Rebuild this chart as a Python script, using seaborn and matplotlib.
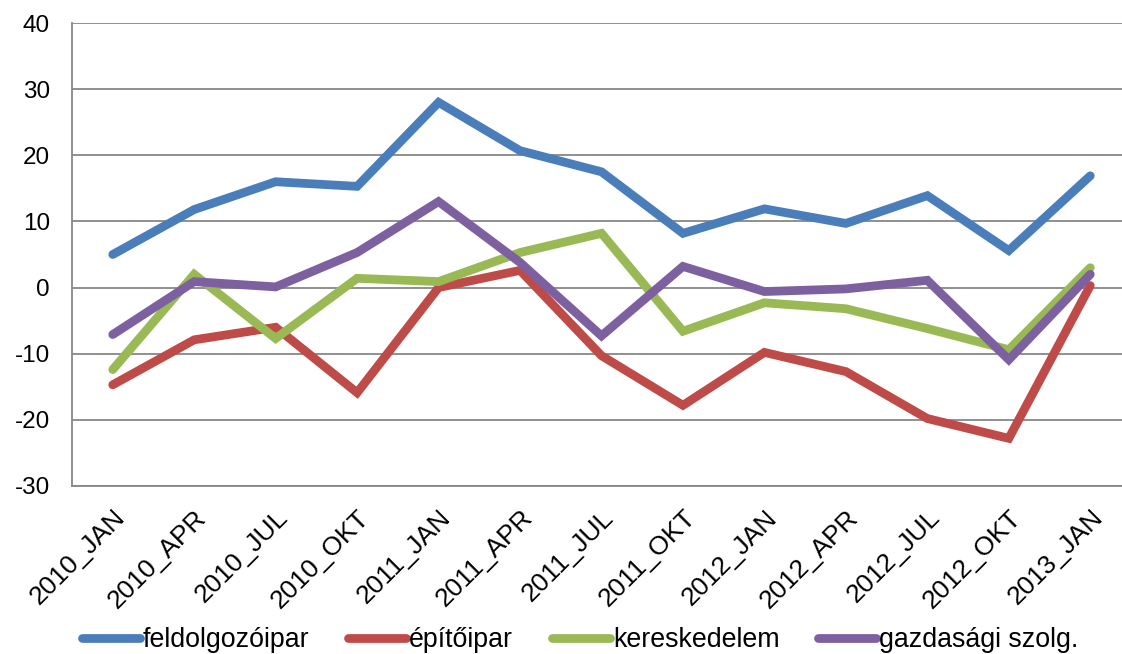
import pandas as pd
import matplotlib.pyplot as plt
import seaborn as sns
from matplotlib.transforms import ScaledTranslation

periods = ["2010_JAN", "2010_APR", "2010_JUL", "2010_OKT", "2011_JAN", "2011_APR",
           "2011_JUL", "2011_OKT", "2012_JAN", "2012_APR", "2012_JUL", "2012_OKT", "2013_JAN"]
feldolgozoipar = [5.0, 11.8, 16.0, 15.3, 28.0, 20.7, 17.5, 8.2, 11.9, 9.7, 13.9, 5.6, 16.9]
epitoipar = [-14.7, -7.9, -6.0, -15.9, 0.0, 2.6, -10.3, -17.8, -9.8, -12.7, -19.8, -22.8, 0.3]
kereskedelem = [-12.4, 2.0, -7.7, 1.4, 0.9, 5.3, 8.2, -6.6, -2.3, -3.2, -6.2, -9.4, 3.0]
gazdasagi = [-7.1, 0.9, 0.1, 5.3, 13.0, 3.8, -7.3, 3.2, -0.6, -0.2, 1.1, -10.9, 2.0]

series = {
    "feldolgozóipar": feldolgozoipar,
    "építőipar": epitoipar,
    "kereskedelem": kereskedelem,
    "gazdasági szolg.": gazdasagi,
}
colors = ["#4A7EBB", "#BE4B48", "#98B954", "#7D60A0"]

rows = []
for name, vals in series.items():
    for i, v in enumerate(vals):
        rows.append({"idx": i, "value": v, "ágazat": name})
df = pd.DataFrame(rows)

sns.set_style("white")
plt.rcParams["font.family"] = ["Liberation Sans", "DejaVu Sans"]
plt.rcParams["axes.unicode_minus"] = False
plt.rcParams["text.color"] = "black"
plt.rcParams["xtick.labelcolor"] = "black"
plt.rcParams["ytick.labelcolor"] = "black"

fig = plt.figure(figsize=(11.22, 6.54), dpi=100)
ax = fig.add_axes([72 / 1122, 1 - 486 / 654, 1059 / 1122, 463 / 654])

sns.lineplot(data=df, x="idx", y="value", hue="ágazat", palette=colors,
             linewidth=6.3, ax=ax, legend=False)
for ln in ax.lines:
    ln.set_solid_joinstyle("miter")

ax.set_xlim(-0.5, 12.5)
ax.set_ylim(-30, 40)
ax.set_yticks(range(-30, 41, 10))
ax.yaxis.grid(True, color="#878787", linewidth=1.3)
ax.set_axisbelow(True)

ax.set_xticks(range(len(periods)))
ax.set_xticklabels(periods, rotation=45, ha="right", va="top",
                   rotation_mode="anchor", fontsize=19)
shift = ScaledTranslation(-1 / 100, 0, fig.dpi_scale_trans)
for lab in ax.get_xticklabels():
    lab.set_transform(lab.get_transform() + shift)
ax.set_xticks([i - 0.5 for i in range(len(periods) + 1)], minor=True)
ax.tick_params(axis="x", which="major", length=0, pad=14)
ax.tick_params(axis="x", which="minor", length=5, color="#878787", width=1.3, direction="out")
ax.tick_params(axis="y", length=5, color="#878787", width=1.3, direction="out",
               labelsize=17.5, pad=11)
ax.set_xlabel("")
ax.set_ylabel("")

for side in ["top", "right"]:
    ax.spines[side].set_visible(False)
for side in ["left", "bottom"]:
    ax.spines[side].set_color("#878787")
    ax.spines[side].set_linewidth(1.3)

handles = [plt.Line2D([], [], color=c, linewidth=6.3, solid_capstyle="round") for c in colors]
fig.legend(handles, list(series.keys()), loc="center left", bbox_to_anchor=(82 / 1122, 0.021),
           ncol=4, frameon=False, fontsize=19.3, handlelength=2.16, handletextpad=0.11,
           columnspacing=1.45, borderpad=0, borderaxespad=0)

fig.savefig("out.png", dpi=100)
